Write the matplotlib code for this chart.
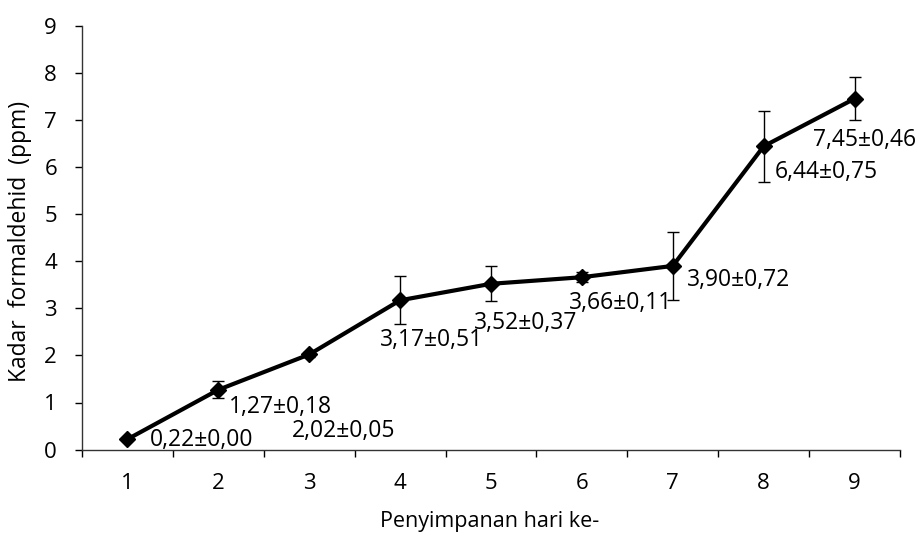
import matplotlib
matplotlib.use("Agg")
import matplotlib.pyplot as plt
import numpy as np

days = [1, 2, 3, 4, 5, 6, 7, 8, 9]
kadar = [0.22, 1.27, 2.02, 3.17, 3.52, 3.66, 3.90, 6.44, 7.45]
sd = [0.00, 0.18, 0.05, 0.51, 0.37, 0.11, 0.72, 0.75, 0.46]
labels = ["0,22±0,00", "1,27±0,18", "2,02±0,05", "3,17±0,51", "3,52±0,37",
          "3,66±0,11", "3,90±0,72", "6,44±0,75", "7,45±0,46"]
# label offsets in pixels (left edge, vertical center) relative to point
offsets = [(22, -1), (11, -17), (-17, -77), (-20, -40), (-17, -39),
           (-13, -26), (14, -14), (11, -26), (-42, -41)]

plt.rcParams['font.family'] = ['Open Sans', 'DejaVu Sans']

fig = plt.figure(figsize=(9.21, 5.36), dpi=100)
W, H = 921, 536
ax = fig.add_axes([82 / W, 1 - 449.6 / H, (900 - 82) / W, (449.6 - 25.7) / H])

ax.errorbar(days, kadar, yerr=sd, fmt='none', ecolor='black', elinewidth=1,
            capsize=4.3, capthick=1, zorder=2)
ax.plot(days, kadar, color='black', lw=3, marker='D', markersize=8.5, zorder=3)

FS = 16.5
for x, y, t, (dx, dy) in zip(days, kadar, labels, offsets):
    ax.annotate(t, (x, y), xytext=(dx, dy), textcoords='offset pixels',
                ha='left', va='center', fontsize=FS)

ax.set_xlim(0.5, 9.5)
ax.set_ylim(0, 9)
ax.set_yticks(range(0, 10))
ax.set_xticks(days)
ax.set_xticks(np.arange(0.5, 10, 1), minor=True)
ax.tick_params(axis='x', which='major', length=0, pad=17, labelsize=16)
ax.tick_params(axis='x', which='minor', length=5, width=1, direction='out')
ax.tick_params(axis='y', length=5, width=1, direction='out', pad=13, labelsize=16)
for s in ['top', 'right']:
    ax.spines[s].set_visible(False)
for s in ['left', 'bottom']:
    ax.spines[s].set_color('#333333')
    ax.spines[s].set_linewidth(1)

fig.text(490 / W, 1 - 522 / H, "Penyimpanan hari ke-", ha='center', va='center', fontsize=15.5)
fig.text(20 / W, 1 - 241 / H, "Kadar  formaldehid  (ppm)", ha='center', va='center',
         rotation=90, fontsize=16.5)

fig.savefig("out.png", dpi=100)
